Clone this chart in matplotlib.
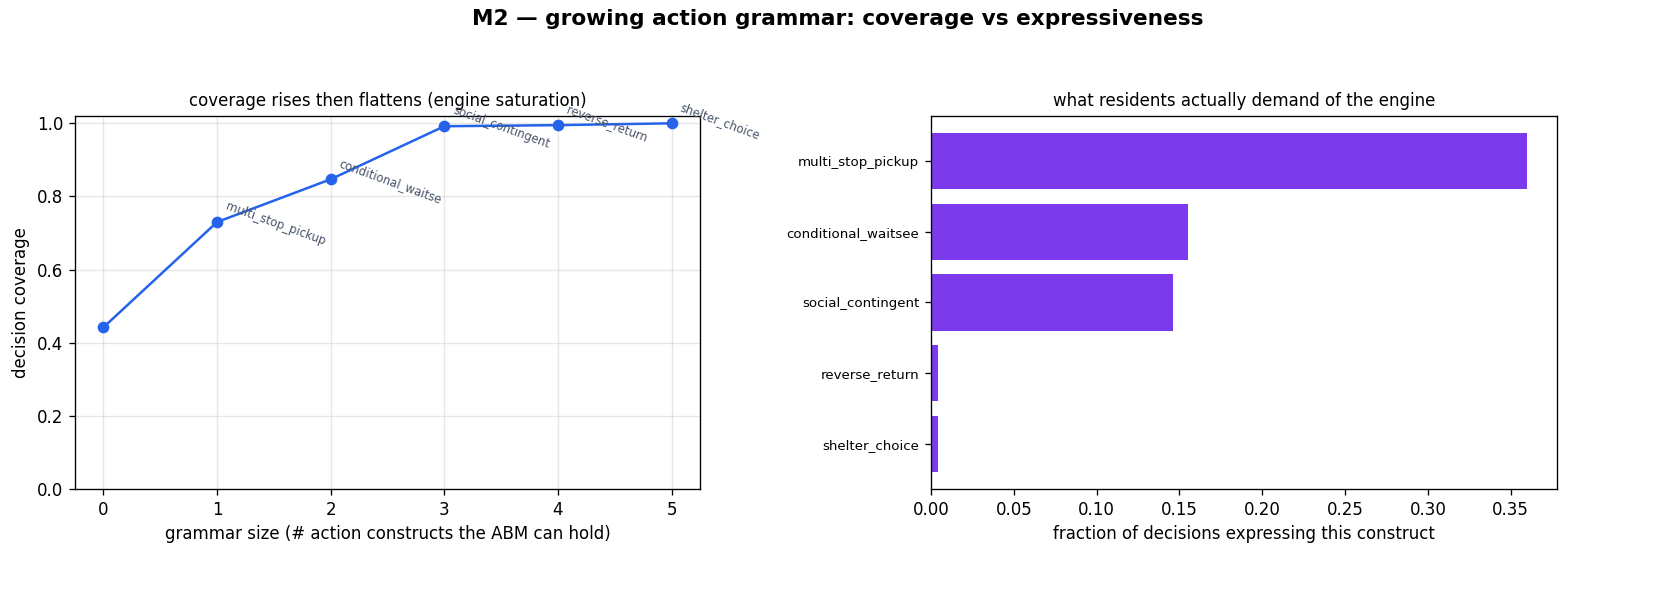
import numpy as np
import matplotlib
matplotlib.use("Agg")
import matplotlib.pyplot as plt

# grammar growth: coverage after adding each construct
grammar_size = [0, 1, 2, 3, 4, 5]
coverage = [0.442, 0.730, 0.847, 0.992, 0.995, 1.0]
added = ["", "multi_stop_pickup", "conditional_waitse", "social_contingent",
         "reverse_return", "shelter_choice"]

# demand per construct
constructs = ["multi_stop_pickup", "conditional_waitsee", "social_contingent",
              "reverse_return", "shelter_choice"]
demand = [0.360, 0.155, 0.146, 0.004, 0.004]

fig = plt.figure(figsize=(1676 / 120, 592 / 120), dpi=120)
ax1 = fig.add_axes([75 / 1676, 1 - 489 / 592, 625 / 1676, 373 / 592])
ax2 = fig.add_axes([931 / 1676, 1 - 489 / 592, 626 / 1676, 373 / 592])

fig.suptitle("M2 — growing action grammar: coverage vs expressiveness",
             fontsize=13, fontweight="bold", y=0.985)

ax1.plot(grammar_size, coverage, "-o", color="#2563eb", lw=1.5, ms=6)
for x, y, name in zip(grammar_size, coverage, added):
    if name:
        ax1.annotate(name, (x, y), textcoords="offset points", xytext=(4, 6),
                     fontsize=7, color="#475569", rotation=-20,
                     ha="left", va="bottom", rotation_mode="anchor")
ax1.set_ylim(0, 1.02)
ax1.set_xlim(-0.25, 5.25)
ax1.grid(alpha=0.3)
ax1.set_xlabel("grammar size (# action constructs the ABM can hold)")
ax1.set_ylabel("decision coverage")
ax1.set_title("coverage rises then flattens (engine saturation)", fontsize=10)

ypos = np.arange(len(constructs))
ax2.barh(ypos, demand, color="#7c3aed")
ax2.set_yticks(ypos)
ax2.set_yticklabels(constructs, fontsize=8)
ax2.invert_yaxis()
ax2.set_xlim(0, 0.378)
ax2.set_xlabel("fraction of decisions expressing this construct")
ax2.set_title("what residents actually demand of the engine", fontsize=10)

fig.savefig("out.png", dpi=120)
